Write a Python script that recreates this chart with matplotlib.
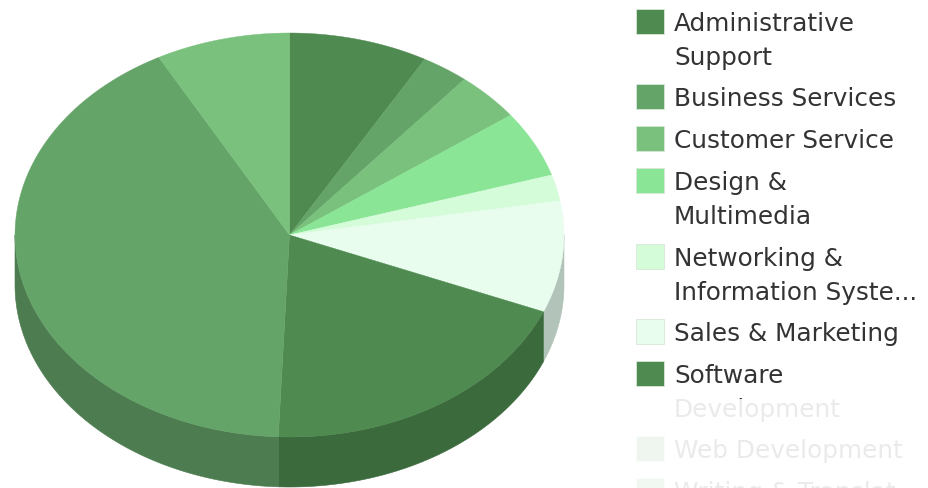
import matplotlib
matplotlib.use("Agg")
import matplotlib.pyplot as plt
from matplotlib.patches import Polygon, Rectangle
import numpy as np

labels = ["Administrative", "Business Services", "Customer Service", "Design &",
          "Networking &", "Sales & Marketing", "Software",
          "Web Development", "Writing & Translat"]
second_lines = ["Support", None, None, "Multimedia", "Information Syste...",
                None, "Development", None, None]
values = [8.2, 2.8, 3.9, 5.3, 2.1, 8.9, 19.45, 41.45, 7.9]
colors = ["#4f8a50", "#65a468", "#79c17c", "#8ae596", "#d4fcd8",
          "#e8fdee", "#4f8a50", "#65a468", "#79c17c"]
wall_colors = ["#3b6a3c", "#4c7c4f", "#5b9160", "#68ac72", "#a0bda4",
               "#b2c4b9", "#3b6a3c", "#4c7c4f", "#5b9160"]

CX, CY, RX, RY, DEPTH = 289.5, 236, 274.5, 202, 50

fig = plt.figure(figsize=(9.29, 4.89), dpi=100)
ax = fig.add_axes([0, 0, 1, 1])
ax.set_xlim(0, 929)
ax.set_ylim(489, 0)
ax.axis("off")


def arc(a0, a1, n=120):
    # angles in degrees, clockwise from the top
    t = np.radians(np.linspace(a0, a1, n))
    return np.column_stack([CX + RX * np.sin(t), CY - RY * np.cos(t)])


edges = np.concatenate([[0], np.cumsum(values)]) / sum(values) * 360

# side wall, only the front half shows
for i in range(len(values)):
    a0, a1 = max(edges[i], 90), min(edges[i + 1], 270)
    if a1 <= a0:
        continue
    top = arc(a0, a1)
    wall = np.vstack([top, (top + [0, DEPTH])[::-1]])
    ax.add_patch(Polygon(wall, fc=wall_colors[i], ec=wall_colors[i], lw=0.4, zorder=1))

# top face
for i in range(len(values)):
    pts = np.vstack([[CX, CY], arc(edges[i], edges[i + 1])])
    ax.add_patch(Polygon(pts, fc=colors[i], ec=colors[i], lw=0.3, zorder=2))

# legend
row_tops = [10, 85, 127, 169, 245, 320, 362, 437, 479]
for i, name in enumerate(labels):
    y = row_tops[i]
    ax.add_patch(Rectangle((636, y), 28, 25, fc=colors[i], ec="#d8e8d8", lw=0.6, zorder=3))
    ax.text(674, y + 14, name, fontsize=17.8, family="DejaVu Sans", color="#333333",
            va="center", ha="left", zorder=3)
    if second_lines[i]:
        ax.text(674, y + 48, second_lines[i], fontsize=17.8, family="DejaVu Sans",
                color="#333333", va="center", ha="left", zorder=3)

# legend fades out towards the bottom
ax.add_patch(Rectangle((620, 400), 309, 89, fc="white", ec="none", alpha=0.9, zorder=4))

fig.savefig("out.png", dpi=100)
